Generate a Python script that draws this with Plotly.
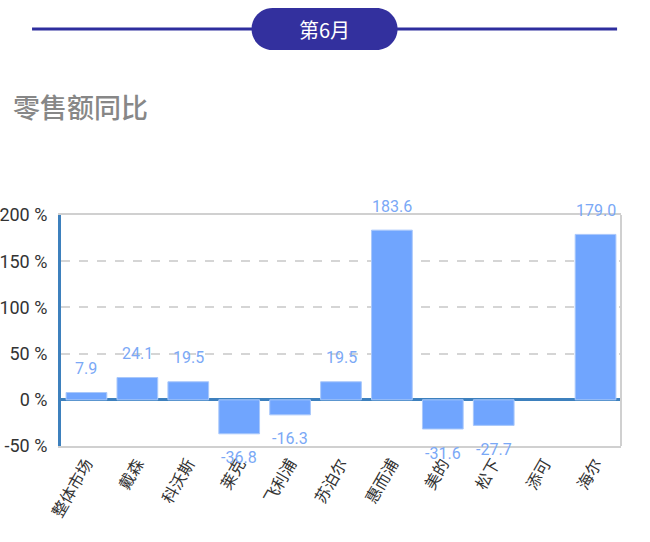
import plotly.graph_objects as go

# 6月 零售额同比 (%)
brands = ["整体市场", "戴森", "科沃斯", "莱克", "飞利浦", "苏泊尔", "惠而浦", "美的", "松下", "添可", "海尔"]
yoy = [7.9, 24.1, 19.5, -36.8, -16.3, 19.5, 183.6, -31.6, -27.7, None, 179.0]
y_ticks = [-50, 0, 50, 100, 150, 200]
y_tick_labels = ["-50 %", "0 %", "50 %", "100 %", "150 %", "200 %"]

bar_color = "#70a5fe"
axis_blue = "#3d80bd"
font_fam = "Roboto, Noto Sans CJK SC, sans-serif"
cjk = "Noto Sans CJK SC"

fig = go.Figure()
fig.add_trace(go.Bar(
    x=brands, y=yoy,
    marker=dict(color=bar_color, line=dict(color="#a9c8fb", width=1)),
    hoverinfo="x+y",
))

# value labels above positive bars / below negative bars
for b, v in zip(brands, yoy):
    if v is None:
        continue
    fig.add_annotation(
        x=b, y=v, text=f"{v:.1f}", showarrow=False,
        yshift=24 if v >= 0 else -24,
        font=dict(family=font_fam, size=16, color="#7aa8f6"),
    )

# header: line + pill with month
fig.add_shape(type="line", xref="paper", yref="paper",
              x0=-0.0517, x1=0.993, y0=1.805, y1=1.805,
              line=dict(color="#2e2e9e", width=3))
fig.add_shape(type="path", xref="paper", yref="paper",
              xsizemode="pixel", ysizemode="pixel", xanchor=0.4706, yanchor=1.805,
              path="M -52,-21 L 52,-21 C 63.6,-21 73,-11.6 73,0 C 73,11.6 63.6,21 52,21 "
                   "L -52,21 C -63.6,21 -73,11.6 -73,0 C -73,-11.6 -63.6,-21 -52,-21 Z",
              fillcolor="#33309e", line=dict(width=0))
fig.add_annotation(text="第6月", xref="paper", yref="paper", x=0.4706, y=1.805,
                   xanchor="center", yanchor="middle", showarrow=False,
                   font=dict(family=cjk, size=20, color="white"))
fig.add_annotation(text="零售额同比", xref="paper", yref="paper", x=-0.0885, y=1.47,
                   xanchor="left", yanchor="middle", showarrow=False,
                   font=dict(family=cjk, size=27, color="#878787", weight=500))

# right frame edge
fig.add_shape(type="line", xref="paper", yref="paper", x0=1, x1=1, y0=0, y1=1,
              line=dict(color="#d0d0d0", width=2))

fig.update_layout(
    width=650, height=542,
    margin=dict(l=61, r=29, t=215, b=96),
    paper_bgcolor="white", plot_bgcolor="white",
    showlegend=False, bargap=0.2,
    font=dict(family=font_fam, color="#333333"),
)
fig.update_xaxes(
    tickangle=-60, tickfont=dict(family=cjk, size=16, color="#333333"),
    showline=True, mirror=True, linecolor="#d0d0d0", linewidth=2, ticks="",
    automargin=False,
)
fig.update_yaxes(
    range=[-50, 200], tickvals=y_ticks, ticktext=y_tick_labels,
    tickfont=dict(size=18, color="#333333"), ticklabelstandoff=7,
    showgrid=True, gridcolor="#d5d5d5", griddash="dash", gridwidth=1.5,
    zeroline=True, zerolinecolor=axis_blue, zerolinewidth=3,
    showline=True, linecolor=axis_blue, linewidth=3, ticks="",
    automargin=False,
)

fig.write_html("out.html", config={"displayModeBar": False},
               post_script="document.body.style.margin='0';")
